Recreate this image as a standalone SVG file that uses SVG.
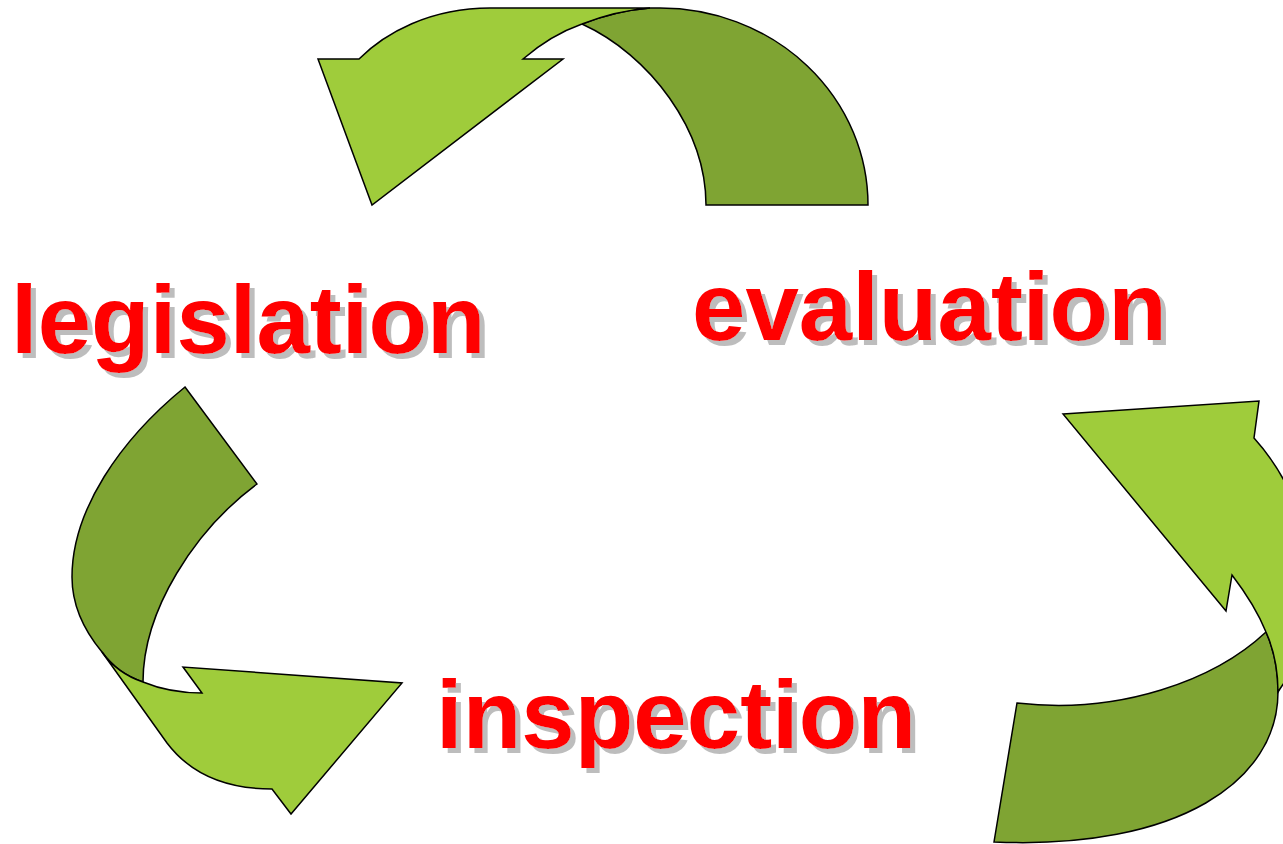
<svg xmlns="http://www.w3.org/2000/svg" width="1283" height="844" viewBox="0 0 1283 844">
  <style>
    .light { fill: #9FCC3B; stroke: #000; stroke-width: 1.5; stroke-linejoin: miter; }
    .dark { fill: #7FA433; stroke: #000; stroke-width: 1.5; stroke-linejoin: miter; }
    .lbl { font-family: "Liberation Sans", Arial, sans-serif; font-weight: bold; font-size: 96px; fill: #FF0000; filter: url(#dropShadow); }
  </style>
  <defs>
    <!-- grey offset copy of the glyphs behind each label -->
    <filter id="dropShadow" x="-5%" y="-20%" width="115%" height="150%">
      <feFlood flood-color="#BDBDBD" result="tint"/>
      <feComposite in="tint" in2="SourceAlpha" operator="in" result="tinted"/>
      <feOffset in="tinted" dx="5" dy="5" result="shadow"/>
      <feMerge>
        <feMergeNode in="shadow"/>
        <feMergeNode in="SourceGraphic"/>
      </feMerge>
    </filter>
  </defs>

  <g id="connectors">
    <!-- top arrow: from evaluation back to legislation -->
    <g id="arrow-top">
      <path class="dark" d="M582,24 C650,55 706,130 706,205 L868,205 A208,197 0 0 0 660,8 L650,8 C625,10 605,15 582,24 Z"/>
      <path class="light" d="M650,8 L490,8 C430,8 385,33 359,59 L318,59 L372,205 L563,59 L523,59 C545,40 565,30 582,24 C605,15 625,10 650,8 Z"/>
    </g>
    <!-- left arrow: from legislation down to inspection -->
    <g id="arrow-left">
      <path class="dark" d="M185,387 L257,484 C195,530 143,610 143,682 C125,676 112,666 102,652 C82,628 72,603 72,577 C72,510 120,440 185,387 Z"/>
      <path class="light" d="M102,652 L167,743 C195,780 235,789 272,789 L291,814 L402,683 L183,667 L202,693 C180,693 160,689 143,682 C125,676 112,666 102,652 Z"/>
    </g>
    <!-- right arrow: from inspection up to evaluation -->
    <g id="arrow-right">
      <path class="dark" d="M1017,703 C1120,715 1215,680 1266,632 C1274,650 1278,670 1278,692 C1278,780 1180,850 994,842 Z"/>
      <path class="light" d="M1063,414 L1259,401 L1254,438 C1272,458 1290,485 1300,520 L1300,660 C1292,672 1284,682 1278,692 C1278,670 1274,650 1266,632 C1257,610 1245,592 1232,575 L1226,611 Z"/>
    </g>
  </g>

  <g id="node-legislation">
    <text class="lbl" x="11" y="353">legislation</text>
  </g>
  <g id="node-evaluation">
    <text class="lbl" x="692" y="340">evaluation</text>
  </g>
  <g id="node-inspection">
    <text class="lbl" x="436" y="748">inspection</text>
  </g>
</svg>
